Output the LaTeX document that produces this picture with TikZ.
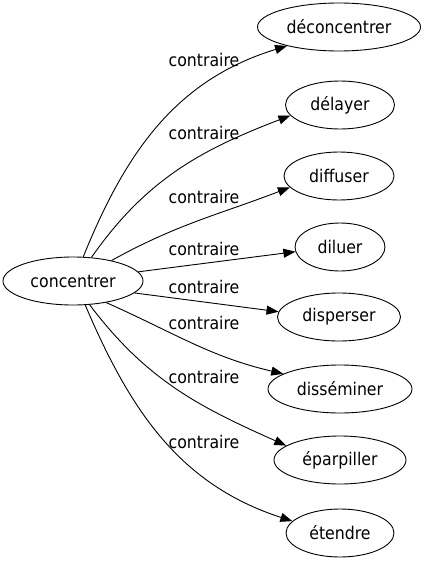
\documentclass[tikz,border=0pt]{standalone}
\usepackage{fontspec}
\setmainfont{DejaVu Sans Condensed}
\usetikzlibrary{shapes.geometric,arrows.meta}

\tikzset{
	mot/.style={ellipse,draw,line width=0.9pt,inner sep=0pt,minimum height=48pt,font=\fontsize{17.5}{20}\selectfont},
	lien/.style={line width=0.9pt,-{Triangle[length=12pt,width=9pt]}},
	etiq/.style={font=\fontsize{17.5}{20}\selectfont}
}

\begin{document}
\begin{tikzpicture}[x=1pt,y=-1pt]
		\useasboundingbox (0,0) rectangle (427,563);
		
		\node[mot,minimum width=140pt] (concentrer) at (73,281) {concentrer};
		
		\node[mot,minimum width=163pt] (deconcentrer) at (339,27) {déconcentrer};
		\node[mot,minimum width=109pt] (delayer) at (340,105) {délayer};
		\node[mot,minimum width=110pt] (diffuser) at (339,176) {diffuser};
		\node[mot,minimum width=90pt] (diluer) at (340,247) {diluer};
		\node[mot,minimum width=123pt] (disperser) at (339,317) {disperser};
		\node[mot,minimum width=144pt] (disseminer) at (340,389) {disséminer};
		\node[mot,minimum width=132pt] (eparpiller) at (340,460) {éparpiller};
		\node[mot,minimum width=108pt] (etendre) at (340,533) {étendre};
		
		\draw[lien] (concentrer.67) to[out=68,in=197] (deconcentrer.200);
		\draw[lien] (concentrer.52) to[out=55,in=201] (delayer.192);
		\draw[lien] (concentrer.28) to[out=29,in=201] (diffuser.193);
		\draw[lien] (concentrer.8) -- (diluer.186);
		\draw[lien] (concentrer.-11) -- (disperser.175);
		\draw[lien] (concentrer.-33) to[out=-24,in=167] (disseminer.165);
		\draw[lien] (concentrer.-55) to[out=-53,in=156] (eparpiller.165);
		\draw[lien] (concentrer.-63) to[out=-67,in=162] (etendre.166);
		
		\foreach \y [count=\i] in {60,133,197,249,287,323,377,442}{
			\node[etiq] (contraire\i) at (204,\y) {contraire};
		}
	\end{tikzpicture}
\end{document}
